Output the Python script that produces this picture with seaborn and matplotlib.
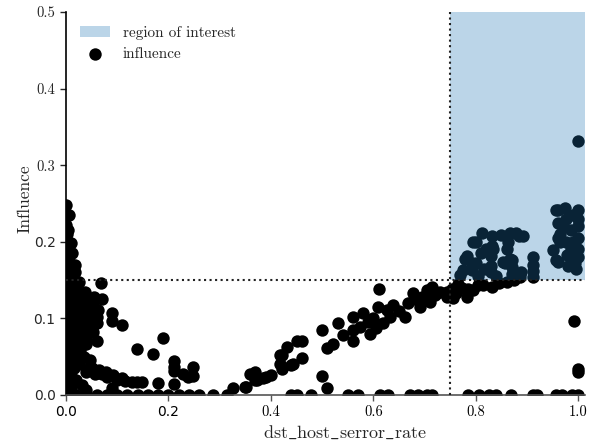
import matplotlib
matplotlib.use("Agg")
import matplotlib.pyplot as plt
import seaborn as sns
import pandas as pd

# --- data -------------------------------------------------------------
# cluster near zero error rate
left_x = [0.0, 0.0, 0.002, 0.01, 0.0, 0.0, 0.018, 0.005, 0.0, 0.012, 0.021, 0.068,
          0.0, 0.0, 0.01, 0.02, 0.03, 0.04, 0.047, 0.053, 0.063, 0.06, 0.06, 0.05,
          0.035, 0.025, 0.015, 0.0, 0.0, 0.01, 0.02, 0.027, 0.04, 0.05, 0.04, 0.03,
          0.02, 0.01, 0.0, 0.0, 0.012, 0.022, 0.03, 0.04, 0.04, 0.06, 0.05, 0.0,
          0.0, 0.01, 0.02, 0.0, 0.01, 0.027, 0.0, 0.008, 0.0, 0.021, 0.047, 0.01,
          0.0, 0.044, 0.04, 0.057, 0.06, 0.079, 0.092, 0.109, 0.128, 0.138, 0.148,
          0.179, 0.21, 0.21, 0.21, 0.21, 0.229, 0.238, 0.248, 0.248, 0.19, 0.139,
          0.169, 0.089, 0.089, 0.109, 0.089, 0.0, 0.01, 0.0, 0.02, 0.031, 0.0,
          0.01, 0.04, 0.055, 0.045, 0.035, 0.07, 0.03, 0.015,
          0.008, 0.016, 0.024, 0.032, 0.04, 0.048, 0.056, 0.008, 0.016, 0.024,
          0.032, 0.044, 0.052, 0.006, 0.014, 0.022, 0.03, 0.038, 0.005, 0.012,
          0.018, 0.026, 0.005, 0.012, 0.02, 0.005, 0.012, 0.004, 0.01, 0.004,
          0.006, 0.006, 0.025, 0.035, 0.05, 0.065, 0.07, 0.08, 0.1, 0.115]
left_y = [0.248, 0.222, 0.21, 0.198, 0.19, 0.18, 0.17, 0.165, 0.16, 0.155, 0.146, 0.146,
          0.15, 0.14, 0.14, 0.135, 0.132, 0.128, 0.124, 0.12, 0.111, 0.102, 0.094, 0.115,
          0.12, 0.125, 0.13, 0.13, 0.12, 0.118, 0.112, 0.107, 0.105, 0.1, 0.09, 0.095,
          0.1, 0.105, 0.11, 0.1, 0.092, 0.085, 0.08, 0.075, 0.067, 0.07, 0.085, 0.09,
          0.08, 0.078, 0.07, 0.07, 0.065, 0.059, 0.06, 0.055, 0.05, 0.046, 0.046, 0.042,
          0.04, 0.035, 0.03, 0.028, 0.029, 0.03, 0.026, 0.022, 0.017, 0.017, 0.017,
          0.016, 0.015, 0.044, 0.037, 0.031, 0.028, 0.024, 0.025, 0.037, 0.074, 0.06,
          0.054, 0.107, 0.096, 0.092, 0.009, 0.03, 0.025, 0.02, 0.02, 0.013, 0.01,
          0.008, 0.006, 0.128, 0.11, 0.115, 0.125, 0.05, 0.035,
          0.128, 0.122, 0.117, 0.112, 0.118, 0.108, 0.098, 0.1, 0.094, 0.09,
          0.102, 0.094, 0.082, 0.145, 0.138, 0.128, 0.12, 0.135, 0.175, 0.185,
          0.16, 0.148, 0.12, 0.085, 0.06, 0.045, 0.035, 0.2, 0.015, 0.215,
          0.235, 0.07, 0.04, 0.05, 0.035, 0.032, 0.027, 0.024, 0.02, 0.018]

# rising band between 0.33 and 0.76
mid_x = [0.326, 0.352, 0.349, 0.359, 0.369, 0.369, 0.372, 0.385, 0.39, 0.401, 0.418,
         0.418, 0.421, 0.421, 0.431, 0.44, 0.443, 0.45, 0.46, 0.46, 0.499, 0.499,
         0.51, 0.51, 0.522, 0.53, 0.541, 0.561, 0.561, 0.561, 0.574, 0.58, 0.593,
         0.606, 0.609, 0.611, 0.619, 0.626, 0.632, 0.639, 0.661, 0.668, 0.678, 0.691,
         0.694, 0.704, 0.71, 0.714, 0.72, 0.73, 0.743, 0.743, 0.753, 0.756, 0.762,
         0.772, 0.782, 0.785, 0.795, 0.805, 0.814, 0.831, 0.845, 0.86, 0.875, 0.765,
         0.59, 0.6, 0.65, 0.68, 0.7]
mid_y = [0.009, 0.011, 0.011, 0.028, 0.02, 0.03, 0.02, 0.022, 0.024, 0.026, 0.041,
         0.052, 0.034, 0.052, 0.063, 0.039, 0.041, 0.07, 0.048, 0.07, 0.085, 0.025,
         0.009, 0.061, 0.067, 0.094, 0.078, 0.07, 0.085, 0.102, 0.089, 0.107, 0.08,
         0.087, 0.115, 0.138, 0.094, 0.111, 0.102, 0.117, 0.102, 0.12, 0.133, 0.115,
         0.128, 0.137, 0.122, 0.141, 0.13, 0.135, 0.128, 0.135, 0.139, 0.126, 0.133,
         0.14, 0.128, 0.138, 0.137, 0.143, 0.144, 0.141, 0.146, 0.148, 0.15, 0.145,
         0.095, 0.1, 0.11, 0.125, 0.128]

# points inside the high error / high influence corner
roi_pts_x = [0.769, 0.775, 0.778, 0.782, 0.792, 0.792, 0.795, 0.801, 0.801, 0.811,
             0.81, 0.815, 0.82, 0.83, 0.83, 0.83, 0.831, 0.831, 0.834, 0.85, 0.853,
             0.857, 0.86, 0.863, 0.866, 0.866, 0.87, 0.87, 0.87, 0.879, 0.885, 0.892,
             0.886, 0.889, 0.912, 0.912, 0.912, 0.912, 0.805, 0.84,
             0.951, 0.957, 0.961, 0.974, 0.97, 0.957, 0.961, 0.977, 0.965, 0.965,
             0.975, 0.975, 0.985, 0.985, 0.99, 0.993, 0.996, 1.0, 1.0, 1.0, 1.0, 1.0,
             1.0, 0.98, 0.96, 0.96, 0.99, 0.99, 1.0]
roi_pts_y = [0.157, 0.163, 0.178, 0.181, 0.172, 0.163, 0.2, 0.172, 0.2, 0.211,
             0.185, 0.165, 0.19, 0.181, 0.168, 0.16, 0.207, 0.194, 0.191, 0.209, 0.174,
             0.172, 0.191, 0.2, 0.211, 0.178, 0.176, 0.167, 0.158, 0.211, 0.207, 0.207,
             0.154, 0.161, 0.18, 0.17, 0.162, 0.154, 0.155, 0.155,
             0.189, 0.241, 0.241, 0.244, 0.22, 0.176, 0.174, 0.183, 0.2, 0.21,
             0.2, 0.23, 0.215, 0.19, 0.175, 0.172, 0.165, 0.241, 0.23, 0.22, 0.205, 0.19,
             0.18, 0.168, 0.225, 0.205, 0.235, 0.2, 0.332]

# scattered high-rate points below the region
right_x = [0.991, 1.0, 1.0]
right_y = [0.097, 0.03, 0.034]

# zero-influence points along the axis
zero_x = [0.0, 0.02, 0.04, 0.06, 0.08, 0.1, 0.12, 0.14, 0.16, 0.18, 0.2, 0.22, 0.24,
          0.26, 0.287, 0.314, 0.44, 0.45, 0.479, 0.55, 0.57, 0.613, 0.628, 0.671,
          0.687, 0.704, 0.714, 0.785, 0.807, 0.826, 0.839, 0.868, 0.911, 0.92, 0.956,
          0.968, 0.987, 1.0]
zero_y = [0.0] * len(zero_x)

roi_x = 0.75
roi_y = 0.15
x_max = 1.013
y_max = 0.5

x_ticks = [0.0, 0.2, 0.4, 0.6, 0.8, 1.0]
y_ticks = [0.0, 0.1, 0.2, 0.3, 0.4, 0.5]

df = pd.DataFrame({
    "dst_host_serror_rate": left_x + mid_x + roi_pts_x + right_x + zero_x,
    "Influence": left_y + mid_y + roi_pts_y + right_y + zero_y,
})

# --- plot -------------------------------------------------------------
sns.set_style("ticks")
plt.rcParams["font.family"] = ["cmr10", "DejaVu Serif"]
plt.rcParams["mathtext.fontset"] = "cm"
plt.rcParams["axes.formatter.use_mathtext"] = True

fig = plt.figure(figsize=(5.96, 4.43), dpi=100)
ax = fig.add_axes([66 / 596, 1 - 395 / 443, (585 - 66) / 596, (395 - 12) / 443])

sns.scatterplot(data=df, x="dst_host_serror_rate", y="Influence", ax=ax,
                color="black", s=80, linewidth=0, label="influence", zorder=2)

ax.fill_between([roi_x, x_max], roi_y, y_max, color="tab:blue", alpha=0.3,
                linewidth=0, zorder=3, label="region of interest")
ax.axvline(roi_x, color="#222222", linestyle=":", linewidth=1.5, zorder=4)
ax.axhline(roi_y, color="#222222", linestyle=":", linewidth=1.5, zorder=4)

ax.set_xlim(0, x_max)
ax.set_ylim(0, y_max)
ax.set_xticks(x_ticks)
ax.set_yticks(y_ticks)
ax.set_xticklabels([f"{t:.1f}" for t in x_ticks])
ax.set_yticklabels([f"{t:.1f}" for t in y_ticks])
ax.tick_params(labelsize=10.5, length=4, width=1)
for lbl in ax.get_xticklabels()[:2] + ax.get_yticklabels()[:3]:
    lbl.set_fontfamily("DejaVu Sans")
    lbl.set_fontsize(10)

sns.despine(ax=ax)
ax.spines["left"].set_color("black")
ax.spines["bottom"].set_color("#555555")
ax.spines["left"].set_linewidth(1.2)
ax.spines["bottom"].set_linewidth(1.2)
ax.tick_params(axis="x", colors="#555555", labelcolor="black")

ax.set_xlabel(r"$\mathrm{dst\_host\_serror\_rate}$", fontsize=13, labelpad=3,
              x=0.5376)
ax.set_ylabel("Influence", fontsize=12.5, labelpad=1, y=0.512)

handles, labels = ax.get_legend_handles_labels()
order = [labels.index("region of interest"), labels.index("influence")]
ax.legend([handles[i] for i in order], [labels[i] for i in order],
          loc="upper left", frameon=False, fontsize=11,
          bbox_to_anchor=(0.0, 1.0))

fig.savefig("out.png", dpi=100)
